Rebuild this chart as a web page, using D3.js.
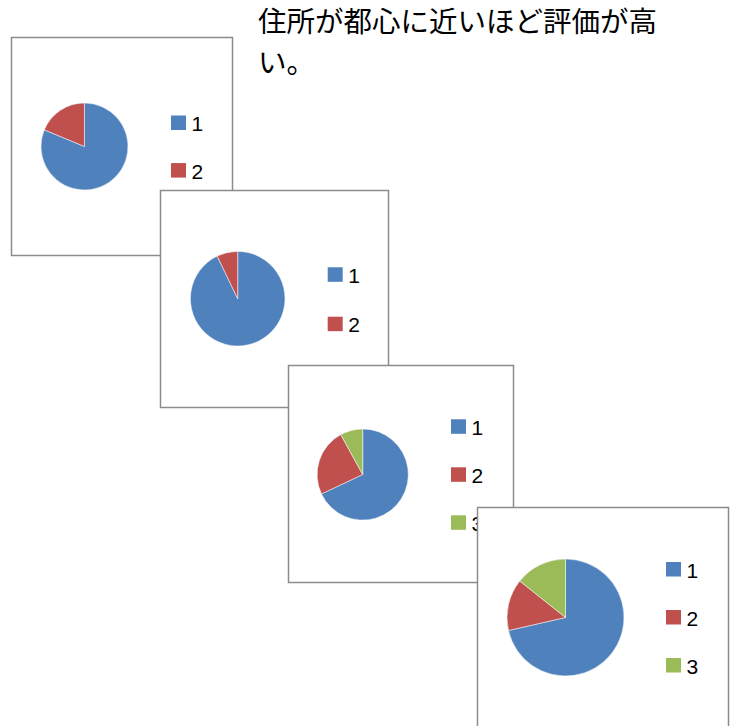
<html lang="ja">
<head>
    <meta charset="UTF-8">
    <title>評価の円グラフ</title>
    <style>
        body { margin: 0; background: #fff; }
    </style>
</head>
<body>
<script src="https://d3js.org/d3.v7.min.js"></script>

<script>
// data
const titleLines = ["住所が都心に近いほど評価が高", "い。"]
const cats1 = ["1", "2"]
const vals1 = [13, 3]
const cats2 = ["1", "2"]
const vals2 = [13, 1]
const cats3 = ["1", "2", "3"]
const vals3 = [17, 6, 2]
const cats4 = ["1", "2", "3"]
const vals4 = [5, 1, 1]

const colors = ['#4f81bd', '#c0504d', '#9bbb59']

const m = {
    width: 735,
    height: 726
}

// each chart frame: box, pie centre / radius, legend start
const frames = [
    { cats: cats1, vals: vals1, x: 11.5, y: 37.5, w: 221, h: 218, cx: 84.5, cy: 146.5, r: 43.5, lx: 171, ly: 115.5, step: 47.6 },
    { cats: cats2, vals: vals2, x: 160.5, y: 190.5, w: 228, h: 217, cx: 237.7, cy: 298.7, r: 47.3, lx: 327.7, ly: 267.3, step: 49.4 },
    { cats: cats3, vals: vals3, x: 288.5, y: 365.5, w: 225, h: 217, cx: 362.7, cy: 474.5, r: 45.6, lx: 451, ly: 419.3, step: 48 },
    { cats: cats4, vals: vals4, x: 477.5, y: 507.5, w: 251, h: 250, cx: 565.5, cy: 617.5, r: 58.5, lx: 666, ly: 562, step: 48 }
]

const svg = d3.select("body").append('svg')
    .attr('width', m.width)
    .attr('height', m.height)

const color = d3.scaleOrdinal().domain(["1", "2", "3"]).range(colors)

const pie = d3.pie().sort(null)

frames.forEach(function(f) {
    const g = svg.append('g')

    g.append('rect')
        .attr('x', f.x)
        .attr('y', f.y)
        .attr('width', f.w)
        .attr('height', f.h)
        .attr('fill', '#fff')
        .attr('stroke', '#8c8c8c')
        .attr('stroke-width', 1.5)

    const arc = d3.arc().innerRadius(0).outerRadius(f.r)

    g.append('g')
        .attr('transform', 'translate(' + f.cx + ',' + f.cy + ')')
        .selectAll('path')
        .data(pie(f.vals))
        .enter()
        .append('path')
            .attr('d', arc)
            .attr('fill', function(d, i) { return color(f.cats[i]) })
            .attr('stroke', '#fff')
            .attr('stroke-width', 0.5)

    const leg = g.selectAll('.leg')
        .data(f.cats)
        .enter()
        .append('g')
            .attr('transform', function(d, i) { return 'translate(' + f.lx + ',' + (f.ly + i * f.step) + ')' })

    leg.append('rect')
        .attr('width', 15)
        .attr('height', 14.5)
        .attr('fill', function(d) { return color(d) })

    leg.append('text')
        .attr('x', 20.5)
        .attr('y', 15.5)
        .attr('font-family', '"Liberation Sans", Arial, sans-serif')
        .attr('font-size', 21)
        .attr('fill', '#000')
        .text(function(d) { return d })
})

svg.append('text')
    .attr('font-family', '"Noto Sans CJK JP", sans-serif')
    .attr('font-size', 28.5)
    .attr('fill', '#000')
    .selectAll('tspan')
    .data(titleLines)
    .enter()
    .append('tspan')
        .attr('x', 258)
        .attr('y', function(d, i) { return 32 + i * 41 })
        .text(function(d) { return d })
</script>
</body>
</html>
